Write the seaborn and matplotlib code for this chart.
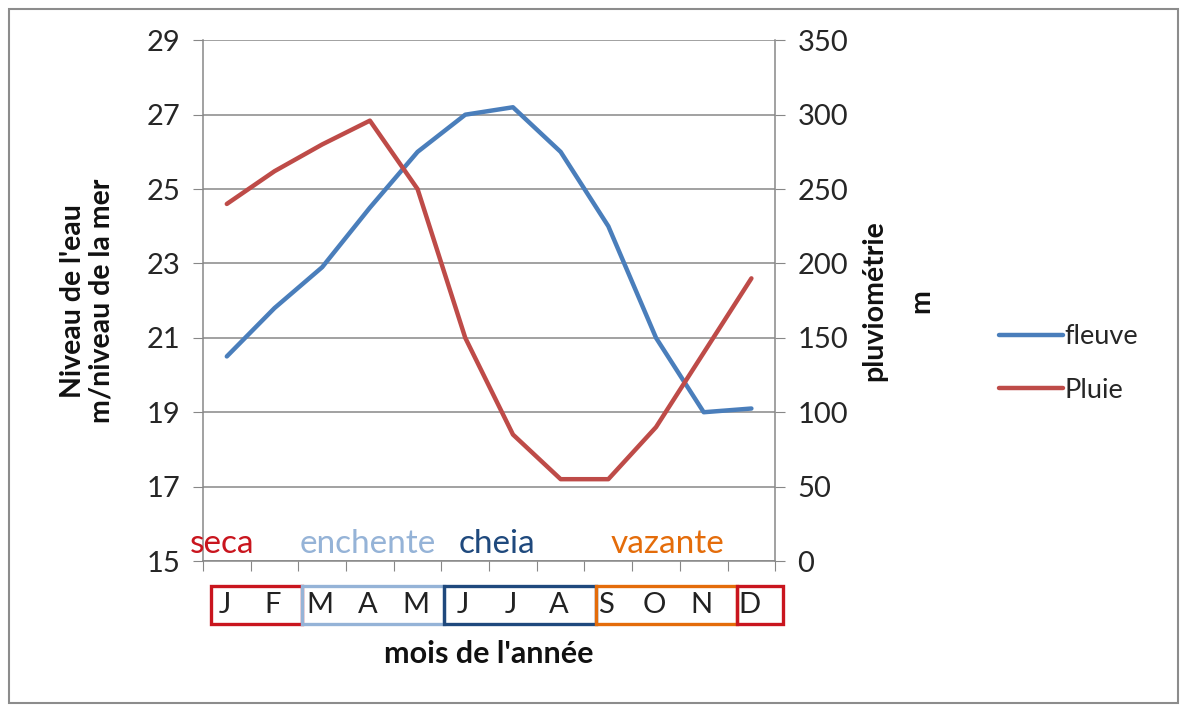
import matplotlib.pyplot as plt
import seaborn as sns
from matplotlib.patches import Rectangle
from matplotlib.lines import Line2D
from matplotlib.transforms import blended_transform_factory

# Données
mois = ['J', 'F', 'M', 'A', 'M', 'J', 'J', 'A', 'S', 'O', 'N', 'D']
fleuve = [20.5, 21.8, 22.9, 24.5, 26.0, 27.0, 27.2, 26.0, 24.0, 21.0, 19.0, 19.1]
pluie = [240, 262, 280, 296, 250, 150, 85, 55, 55, 90, 140, 190]

saisons = ['seca', 'enchente', 'cheia', 'vazante']
couleurs_saisons = ['#C9151E', '#95B3D7', '#1F497D', '#E46C0A']
# groupes de mois encadrés (le dernier "D" retourne en seca)
groupes_couleurs = ['#C9151E', '#95B3D7', '#1F497D', '#E46C0A', '#C9151E']

sns.set_style('white')
plt.rcParams['font.family'] = ['Lato', 'DejaVu Sans']

fig = plt.figure(figsize=(11.8, 7.07), dpi=100)
ax = fig.add_axes([0.172, 0.2065, 0.485, 0.7365])
ax2 = ax.twinx()

x = list(range(len(mois)))
sns.lineplot(x=x, y=fleuve, ax=ax, color='#4A7EBB', lw=3.2, label='fleuve', legend=False)
sns.lineplot(x=x, y=pluie, ax=ax2, color='#BE4B48', lw=3.2, label='Pluie', legend=False)

gris = '#878787'
ax.set_xlim(-0.5, 11.5)
ax.set_ylim(15, 29)
ax.set_yticks(range(15, 30, 2))
ax2.set_ylim(0, 350)
ax2.set_yticks(range(0, 351, 50))
ax.set_xticks([i - 0.5 for i in range(13)])
ax.set_xticklabels([])

ax.grid(axis='y', color=gris, lw=1.1)
ax.grid(axis='x', visible=False)
for a in (ax, ax2):
    for s in a.spines.values():
        s.set_color(gris)
        s.set_linewidth(1.1)
    a.spines['top'].set_visible(False)
ax.spines['right'].set_visible(False)
ax2.spines['left'].set_visible(False)
ax2.spines['bottom'].set_visible(False)

ax.tick_params(axis='y', direction='out', length=7, color=gris, labelsize=21,
               labelcolor='#262626', pad=9, left=True)
ax.tick_params(axis='x', direction='out', length=7, color=gris, bottom=True)
ax2.tick_params(axis='y', direction='out', length=7, color=gris, labelsize=21,
                labelcolor='#262626', pad=9, right=True)

ax.set_ylabel("Niveau de l'eau\nm/niveau de la mer", fontsize=20.5,
              fontweight='bold', color='#111111', linespacing=1.1)
ax.yaxis.set_label_coords(-0.155, 0.5)
ax2.set_ylabel('pluviométrie\nm', fontsize=20.5, fontweight='bold',
               color='#111111', linespacing=2.0)
ax2.yaxis.set_label_coords(1.15, 0.5)

ax.set_xlabel("mois de l'année", fontsize=22, fontweight='bold', color='#111111')
ax.xaxis.set_label_coords(0.5, -0.152)

# noms des saisons dans le graphique
pos_saisons = [-0.1, 2.96, 5.67, 9.25]
for nom, c, px in zip(saisons, couleurs_saisons, pos_saisons):
    ax.text(px, 15.45, nom, color=c, fontsize=24, ha='center', va='center')

# cases des mois sous l'axe
trans = blended_transform_factory(ax.transData, ax.transAxes)
bords = [-0.33, 1.58, 4.56, 7.74, 10.70, 11.67]
for i, c in enumerate(groupes_couleurs):
    ax.add_patch(Rectangle((bords[i], -0.121), bords[i + 1] - bords[i], 0.073,
                           transform=trans, fill=False, edgecolor=c, lw=2.4,
                           clip_on=False))
for i, m in enumerate(mois):
    ax.text(i - 0.04, -0.0845, m, transform=trans, fontsize=21, ha='center',
            va='center', color='#222222')

handles = [Line2D([], [], color='#4A7EBB', lw=3.2), Line2D([], [], color='#BE4B48', lw=3.2)]
ax2.legend(handles, ['fleuve', 'Pluie'], loc='center left', bbox_to_anchor=(0.826, 0.486),
           bbox_transform=fig.transFigure, frameon=False, fontsize=19.5,
           handlelength=2.35, handletextpad=0.08, labelspacing=1.05)

fig.add_artist(Rectangle((0.008, 0.006), 0.990, 0.981, transform=fig.transFigure,
                         fill=False, edgecolor='#8C8C8C', lw=1.5))

fig.savefig('out.png', dpi=100)
